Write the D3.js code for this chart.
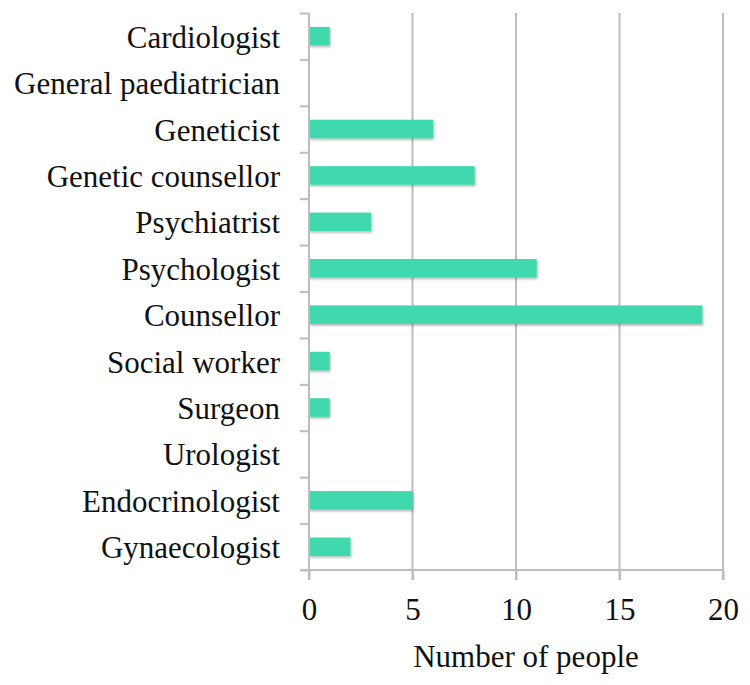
<!DOCTYPE html>
<html>
<head>
<meta charset="utf-8">
<script src="https://cdn.jsdelivr.net/npm/d3@7"></script>
<style>
  body { margin: 0; background: #fff; }
  .serif { font-family: "Liberation Serif", "Times New Roman", serif; }
</style>
</head>
<body>
<div id="chart"></div>
<script>
// categories top to bottom
var categories = ["Cardiologist", "General paediatrician", "Geneticist", "Genetic counsellor",
  "Psychiatrist", "Psychologist", "Counsellor", "Social worker", "Surgeon", "Urologist",
  "Endocrinologist", "Gynaecologist"];
var counts = [1, 0, 6, 8, 3, 11, 19, 1, 1, 0, 5, 2];
var xTicks = [0, 5, 10, 15, 20];
var xTitle = "Number of people";

var svgWidth = 750;
var svgHeight = 685;

var margin = { top: 13, right: 27, bottom: 115, left: 309 };
var width = svgWidth - margin.left - margin.right;
var height = svgHeight - margin.top - margin.bottom;

var svg = d3.select("#chart")
  .append("svg")
  .attr("width", svgWidth)
  .attr("height", svgHeight);

// soft shadow under bars
var filter = svg.append("defs").append("filter")
  .attr("id", "shadow")
  .attr("x", "-5%").attr("y", "-30%")
  .attr("width", "110%").attr("height", "170%");
filter.append("feDropShadow")
  .attr("dx", 1).attr("dy", 1.5)
  .attr("stdDeviation", 1.2)
  .attr("flood-color", "#000")
  .attr("flood-opacity", 0.3);

var chartGroup = svg.append("g")
  .attr("transform", `translate(${margin.left}, ${margin.top})`);

var x = d3.scaleLinear().domain([0, 20]).range([0, width]);
var y = d3.scaleBand().domain(categories).range([0, height])
  .paddingInner(0.6).paddingOuter(0.3);

var gridColor = "#bdbdbd";

// vertical gridlines, running down past the axis as ticks
chartGroup.selectAll(".grid")
  .data(xTicks.filter(d => d > 0))
  .enter()
  .append("line")
  .attr("x1", d => x(d)).attr("x2", d => x(d))
  .attr("y1", 0).attr("y2", height + 10)
  .attr("stroke", gridColor)
  .attr("stroke-width", 2);

// bars
chartGroup.selectAll(".bar")
  .data(categories)
  .enter()
  .append("rect")
  .attr("x", x(0))
  .attr("y", d => y(d))
  .attr("width", (d, i) => x(counts[i]) - x(0))
  .attr("height", y.bandwidth())
  .attr("fill", "#41d9ad")
  .attr("filter", (d, i) => counts[i] > 0 ? "url(#shadow)" : null);

// y axis, ticks between categories
var boundaries = d3.range(categories.length + 1);
var yLine = d3.scaleLinear().domain([0, categories.length]).range([0, height]);
var yAxis = chartGroup.append("g")
  .call(d3.axisLeft(yLine).tickValues(boundaries).tickSize(9).tickFormat("").tickSizeOuter(0));
yAxis.select(".domain").attr("stroke", gridColor).attr("stroke-width", 2)
  .attr("d", `M0,0V${height + 10}`);
yAxis.selectAll(".tick line").attr("stroke", gridColor).attr("stroke-width", 2);

// category labels
chartGroup.selectAll(".cat")
  .data(categories)
  .enter()
  .append("text")
  .attr("class", "serif")
  .attr("x", -29)
  .attr("y", d => y(d) + y.bandwidth() / 2)
  .attr("dy", "0.37em")
  .attr("text-anchor", "end")
  .attr("font-size", "31px")
  .attr("fill", "#111")
  .text(d => d);

// x axis
var xAxis = chartGroup.append("g")
  .attr("transform", `translate(0, ${height})`)
  .call(d3.axisBottom(x).tickValues(xTicks).tickSize(10).tickSizeOuter(0));
xAxis.select(".domain").attr("stroke", gridColor).attr("stroke-width", 2)
  .attr("d", `M-9,0H${width}`);
xAxis.selectAll(".tick line").attr("stroke", gridColor).attr("stroke-width", 2);
xAxis.selectAll(".tick text")
  .attr("class", "serif")
  .attr("y", 0).attr("dy", 0)
  .attr("transform", "translate(0, 50)")
  .attr("font-size", "31px")
  .attr("fill", "#111");

// x title
chartGroup.append("text")
  .attr("class", "serif")
  .attr("x", 217)
  .attr("y", height + 97)
  .attr("text-anchor", "middle")
  .attr("font-size", "31px")
  .attr("fill", "#111")
  .text(xTitle);
</script>
</body>
</html>
